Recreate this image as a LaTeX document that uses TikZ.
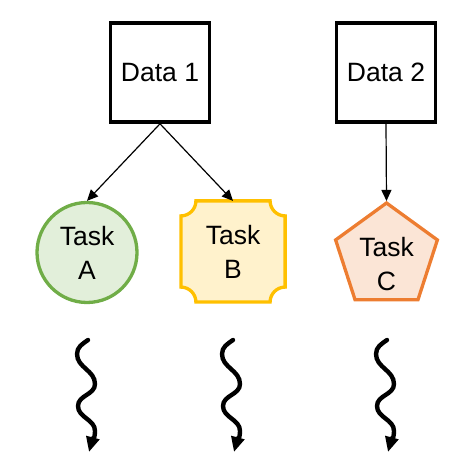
\documentclass[tikz,border=0pt]{standalone}
\usepackage{fontspec}
\setmainfont{Liberation Sans}
\usetikzlibrary{arrows.meta,shapes.geometric,backgrounds}

\definecolor{greenline}{HTML}{70AD47}
\definecolor{greenfill}{HTML}{E2EFDA}
\definecolor{yellowline}{HTML}{FFC000}
\definecolor{yellowfill}{HTML}{FFF2CC}
\definecolor{orangeline}{HTML}{ED7D31}
\definecolor{orangefill}{HTML}{FBE5D6}

\begin{document}
\begin{tikzpicture}[x=1pt, y=1pt,
        boxtext/.style={font=\fontsize{26.5}{34}\selectfont, align=center, text=black},
        databox/.style={draw=black, line width=3.6pt, fill=white, minimum width=99pt, minimum height=99pt, inner sep=0pt, boxtext},
        taskcirc/.style={circle, draw=greenline, fill=greenfill, line width=3.3pt, minimum size=100pt, inner sep=0pt, boxtext},
        taskplaque/.style={rectangle, minimum width=101pt, minimum height=98pt, inner sep=0pt, outer sep=1.6pt, boxtext},
        taskpent/.style={regular polygon, regular polygon sides=5, draw=orangeline, fill=orangefill, line width=3.3pt, minimum size=107pt, inner sep=0pt},
        feed/.style={-{Triangle[length=11pt,width=10pt]}, line width=1.2pt},
        wave/.style={-{Triangle[length=15pt,width=13pt]}, line width=4.4pt, line cap=round}]
        \useasboundingbox (0,0) rectangle (475,476);

        % Data
        \node[databox] (data1) at (160,403.5) {Data 1};
        \node[databox] (data2) at (386,403.3) {Data 2};

        % Tasks
        \node[taskcirc] (taskA) at (87,223.5) {Task\\A};
        \node[taskplaque] (taskB) at (233,224.5) {Task\\B};
        \node[taskpent, label={[boxtext, yshift=-7.5pt]center:Task\\C}] (taskC) at (386.5,219.5) {};

        % Task B outline, corners cut inwards
        \begin{scope}[on background layer]
        \draw[draw=yellowline, fill=yellowfill, line width=3.3pt]
            ([xshift=15pt]taskB.north west) -- ([xshift=-15pt]taskB.north east)
            arc[start angle=180, end angle=270, radius=15pt] -- ([yshift=15pt]taskB.south east)
            arc[start angle=90, end angle=180, radius=15pt] -- ([xshift=15pt]taskB.south west)
            arc[start angle=0, end angle=90, radius=15pt] -- ([yshift=-15pt]taskB.north west)
            arc[start angle=270, end angle=360, radius=15pt] -- cycle;
        \end{scope}

        % Connections
        \draw[feed] (data1.south) -- (taskA.north);
        \draw[feed] (data1.south) -- (taskB.north);
        \draw[feed] (data2.south) -- (taskC.north);

        % Running
        \foreach \x/\t in {88/A,233/B,387/C} {
            \coordinate (run\t) at (\x,136);
            \draw[wave] (run\t) to[out=215,in=90] ++(-11,-14) to[out=270,in=90] ++(18,-30)
                to[out=270,in=90] ++(-17,-22) to[out=270,in=90] ++(17,-25) to[out=270,in=75] ++(-6,-21);
        }
    \end{tikzpicture}
\end{document}
